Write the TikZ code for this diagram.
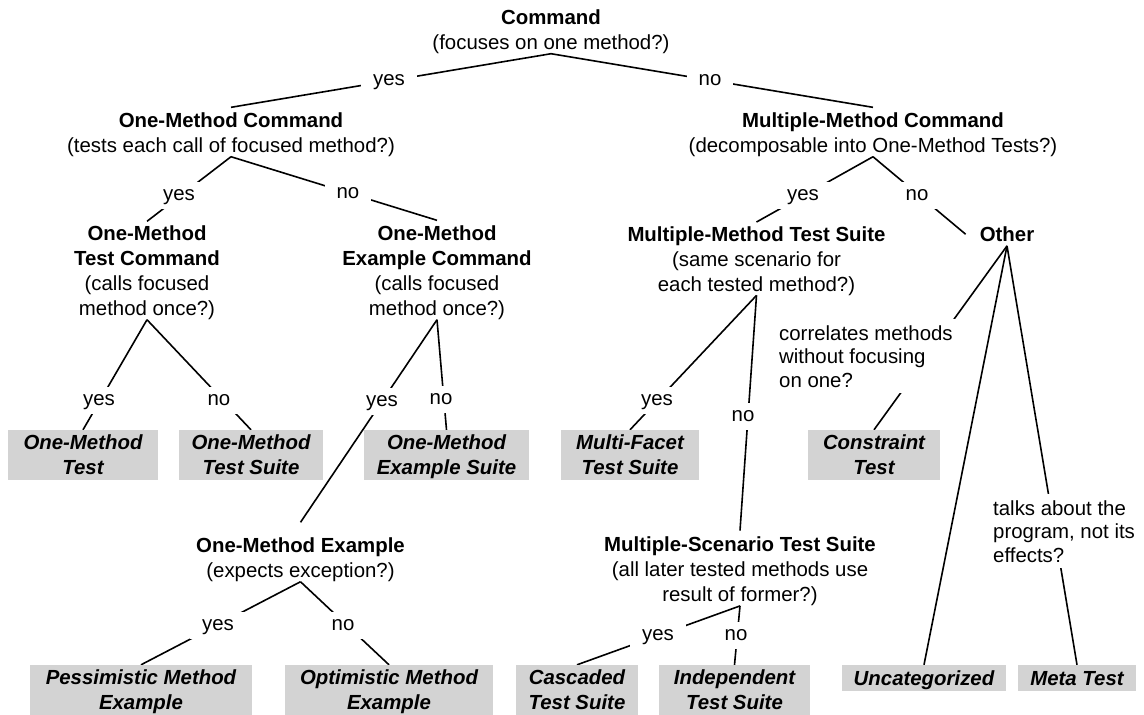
\documentclass[tikz,border=0pt]{standalone}
\usepackage{fontspec}
\setmainfont{Liberation Sans}
\usetikzlibrary{backgrounds}
\definecolor{leafgray}{RGB}{211,211,211}
\begin{document}
\begin{tikzpicture}[x=1pt,y=-1pt,
  every node/.style={font=\fontsize{20.4}{25}\selectfont},
  dec/.style={align=center, inner sep=0pt, anchor=base},
  lab/.style={fill=white, inner xsep=12pt, inner ysep=4pt, text height=14.7pt, text depth=4.3pt, anchor=center},
  note/.style={align=left, fill=white, inner sep=6pt, anchor=base west, font=\fontsize{20.4}{23.6}\selectfont},
  leaf/.style={fill=leafgray, inner sep=0pt, align=center, text depth=0pt, minimum height=50pt, font=\fontsize{20.4}{25}\selectfont\bfseries\itshape},
  conn/.style={line width=1.6pt, black}
]
\useasboundingbox (0,0) rectangle (1144,715);

% decision nodes (placed at the baseline of their last line)
\node[dec] (cmd) at (551,49.3) {\textbf{Command}\\(focuses on one method?)};
\node[dec] (omc) at (231,152.3) {\textbf{One-Method Command}\\(tests each call of focused method?)};
\node[dec] (mmc) at (873,152.3) {\textbf{Multiple-Method Command}\\(decomposable into One-Method Tests?)};
\node[dec] (omtc) at (147,315.3) {\textbf{One-Method}\\\textbf{Test Command}\\(calls focused\\method once?)};
\node[dec] (omec) at (437,315.3) {\textbf{One-Method}\\\textbf{Example Command}\\(calls focused\\method once?)};
\node[dec] (mmts) at (756.5,291) {\textbf{Multiple-Method Test Suite}\\(same scenario for\\each tested method?)};
\node[dec] (other) at (1007,241.5) {\textbf{Other}};
\node[dec] (ome) at (300.5,577.3) {\textbf{One-Method Example}\\(expects exception?)};
\node[dec] (msts) at (740,601.5) {\textbf{Multiple-Scenario Test Suite}\\(all later tested methods use\\result of former?)};

% question notes
\node[note] (corr) at (773,387.2) {correlates methods\\without focusing\\on one?};
\node[note] (talk) at (987,562.2) {talks about the\\program, not its\\effects?};

% answer labels
\node[lab] (l1) at (389,80) {yes};
\node[lab] (l2) at (710,80) {no};
\node[lab] (l3) at (179,195) {yes};
\node[lab] (l4) at (348,193) {no};
\node[lab] (l5) at (803,195) {yes};
\node[lab] (l6) at (917,195) {no};
\node[lab] (l7) at (99,400) {yes};
\node[lab] (l8) at (219,400) {no};
\node[lab] (l9) at (382,401) {yes};
\node[lab] (l10) at (441,399) {no};
\node[lab] (l11) at (657,400) {yes};
\node[lab] (l12) at (743,416) {no};
\node[lab] (l13) at (218,625) {yes};
\node[lab] (l14) at (343,625) {no};
\node[lab] (l15) at (658,635) {yes};
\node[lab] (l16) at (736,635) {no};

% leaves
\node[leaf, minimum width=150pt] (b1) at (83,455) {One-Method\\Test};
\node[leaf, minimum width=144pt] (b2) at (251,455) {One-Method\\Test Suite};
\node[leaf, minimum width=165pt] (b3) at (446.5,455) {One-Method\\Example Suite};
\node[leaf, minimum width=138pt] (b4) at (630,455) {Multi-Facet\\Test Suite};
\node[leaf, minimum width=132pt] (b5) at (874,455) {Constraint\\Test};
\node[leaf, minimum width=222pt] (b6) at (141,690) {Pessimistic Method\\Example};
\node[leaf, minimum width=208pt] (b7) at (389,690) {Optimistic Method\\Example};
\node[leaf, minimum width=122pt] (b8) at (577,690) {Cascaded\\Test Suite};
\node[leaf, minimum width=151pt] (b9) at (734.5,690) {Independent\\Test Suite};
\node[leaf, minimum width=164pt, minimum height=26pt] (b10) at (924,678) {Uncategorized};
\node[leaf, minimum width=118pt, minimum height=26pt] (b11) at (1077,678) {Meta Test};

\begin{pgfonlayer}{background}
\draw[conn] (cmd.south) -- ([yshift=5pt]omc.north);
\draw[conn] (cmd.south) -- ([yshift=5pt]mmc.north);
\draw[conn] (omc.south) -- ([yshift=4pt]omtc.north);
\draw[conn] (omc.south) -- ([yshift=5pt]omec.north);
\draw[conn] (mmc.south) -- ([yshift=4pt]mmts.north);
\draw[conn] (mmc.south) -- ([xshift=-14pt]other.west);
\draw[conn] (omtc.south) -- (b1.north);
\draw[conn] (omtc.south) -- (b2.north);
\draw[conn] (omec.south) -- ([yshift=15pt]ome.north);
\draw[conn] (omec.south) -- (b3.north);
\draw[conn] (mmts.south) -- (b4.north);
\draw[conn] (mmts.south) -- ([yshift=6pt]msts.north);
\draw[conn] ([yshift=-4pt]other.south) -- (b5.north);
\draw[conn] ([yshift=-4pt]other.south) -- (b10.north);
\draw[conn] ([yshift=-4pt]other.south) -- (b11.north);
\draw[conn] (ome.south) -- (b6.north);
\draw[conn] (ome.south) -- (b7.north);
\draw[conn] (msts.south) -- (b8.north);
\draw[conn] (msts.south) -- (b9.north);
\end{pgfonlayer}
\end{tikzpicture}
\end{document}
